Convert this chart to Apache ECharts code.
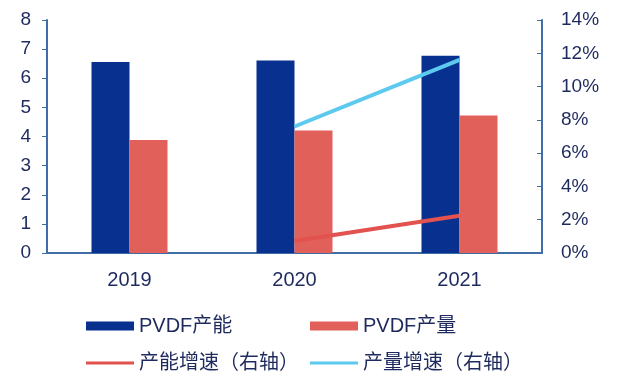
<!DOCTYPE html>
<html>
<head>
<meta charset="utf-8">
<script src="https://cdn.jsdelivr.net/npm/echarts@6/dist/echarts.min.js"></script>
<style>html,body{margin:0;padding:0;background:#fff;}#c{width:640px;height:386px;}</style>
</head>
<body>
<div id="c"></div>
<script>
var categories = ['2019', '2020', '2021'];
var capacity = [6.56, 6.61, 6.77];
var output = [3.88, 4.21, 4.72];
var capacityGrowth = ['-', 0.72, 2.24];
var outputGrowth = ['-', 7.6, 11.6];
var leftTicks = {min: 0, max: 8, interval: 1};
var rightTicks = {min: 0, max: 14, interval: 2};

var axisColor = '#3f6ea6';
var textColor = '#1e2a5e';
var font = 'Liberation Sans, Arial, Noto Sans CJK SC, sans-serif';
var chart = echarts.init(document.getElementById('c'));
function lg(name, left, top, h) {
  return {
    data: [name], left: left, top: top, icon: 'rect', itemWidth: 48, itemHeight: h,
    itemGap: 0, padding: 0, selectedMode: false,
    textStyle: {fontSize: 20, color: textColor, fontFamily: font, padding: [0, 0, 0, 0]}
  };
}
chart.setOption({
  animation: false,
  backgroundColor: '#fff',
  textStyle: {fontFamily: font},
  grid: {left: 47, right: 98, top: 20, bottom: 133, containLabel: false},
  legend: [
    lg('PVDF产能', 86, 316, 9),
    lg('PVDF产量', 310, 316, 9),
    lg('产能增速（右轴）', 86, 353, 3),
    lg('产量增速（右轴）', 310, 353, 3)
  ],
  xAxis: {
    type: 'category', data: categories,
    axisLine: {lineStyle: {color: axisColor, width: 2}},
    axisTick: {lineStyle: {color: axisColor}, length: 5},
    axisLabel: {fontSize: 20, color: textColor, margin: 17, fontFamily: font}
  },
  yAxis: [
    {
      type: 'value', min: leftTicks.min, max: leftTicks.max, interval: leftTicks.interval,
      axisLine: {show: true, lineStyle: {color: axisColor, width: 2}},
      axisTick: {show: true, lineStyle: {color: axisColor}, length: 5},
      axisLabel: {fontSize: 19, color: textColor, margin: 16, fontFamily: font},
      splitLine: {show: false}
    },
    {
      type: 'value', min: rightTicks.min, max: rightTicks.max, interval: rightTicks.interval,
      position: 'right',
      axisLine: {show: true, lineStyle: {color: axisColor, width: 2}},
      axisTick: {show: true, inside: true, lineStyle: {color: axisColor}, length: 5},
      axisLabel: {fontSize: 19, color: textColor, margin: 19, formatter: '{value}%', fontFamily: font},
      splitLine: {show: false}
    }
  ],
  series: [
    {name: 'PVDF产能', type: 'bar', data: capacity, barWidth: 38, barGap: '0%',
     itemStyle: {color: '#08308f'}},
    {name: 'PVDF产量', type: 'bar', data: output, barWidth: 38,
     itemStyle: {color: '#e2605a'}},
    {name: '产能增速（右轴）', type: 'line', yAxisIndex: 1, data: capacityGrowth,
     symbol: 'none', lineStyle: {color: '#e2524e', width: 4}, itemStyle: {color: '#e2524e'}},
    {name: '产量增速（右轴）', type: 'line', yAxisIndex: 1, data: outputGrowth,
     symbol: 'none', lineStyle: {color: '#5cc9ee', width: 4}, itemStyle: {color: '#5cc9ee'}}
  ]
});
</script>
</body>
</html>
